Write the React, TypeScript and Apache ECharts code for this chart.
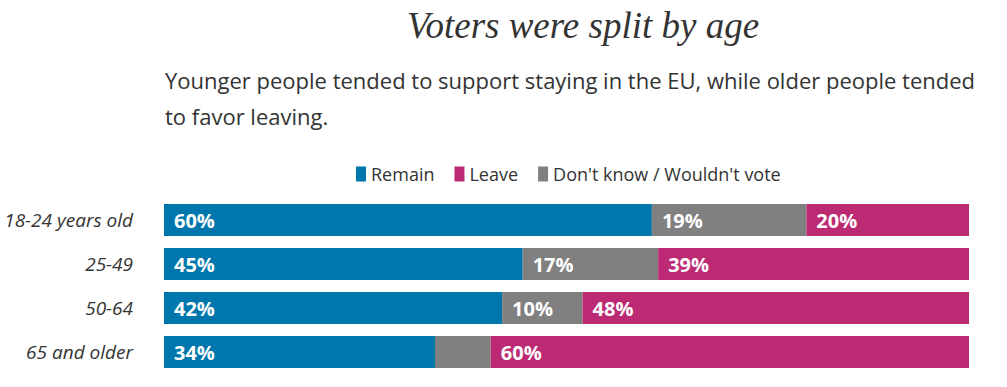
import React, { useEffect, useRef } from "react";
import * as echarts from "echarts";

const categories = ["18-24 years old", "25-49", "50-64", "65 and older"];
const remain = [60, 45, 42, 34];
const dontKnow = [19, 17, 10, 7];
const leave = [20, 39, 48, 60];
const legendOrder = ["Remain", "Leave", "Don't know / Wouldn't vote"];

const COLORS = { remain: "#0077ac", leave: "#bb2a73", dk: "#808080" };
const FONT = "'Open Sans', sans-serif";

export default function App() {
  const ref = useRef<HTMLDivElement>(null);
  useEffect(() => {
    document.body.style.margin = "0";
    const chart = echarts.init(ref.current!, null, { renderer: "svg" });
    const totals = categories.map((_, i) => remain[i] + dontKnow[i] + leave[i]);
    const mk = (name: string, raw: number[], color: string) => ({
      name,
      type: "bar",
      stack: "all",
      barWidth: 32,
      itemStyle: { color },
      label: {
        show: true,
        position: "insideLeft",
        distance: 10,
        color: "#fff",
        fontFamily: FONT,
        fontWeight: "bold",
        fontSize: 20,
        formatter: (p: any) => (raw[p.dataIndex] >= 10 ? raw[p.dataIndex] + "%" : ""),
      },
      data: raw.map((v, i) => (v / totals[i]) * 100),
    });
    chart.setOption({
      animation: false,
      title: [
        {
          text: "Voters were split by age",
          left: 578,
          top: 2,
          textAlign: "center",
          textStyle: {
            fontFamily: "'Liberation Serif', serif",
            fontStyle: "italic",
            fontWeight: "normal",
            fontSize: 37,
            color: "#333",
          },
        },
        {
          text: "Younger people tended to support staying in the EU, while older people tended\nto favor leaving.",
          left: 160,
          top: 57,
          textStyle: {
            fontFamily: FONT,
            fontWeight: "normal",
            fontSize: 22,
            lineHeight: 36,
            color: "#333",
          },
        },
      ],
      legend: {
        data: legendOrder,
        top: 160,
        left: 351,
        icon: "rect",
        itemWidth: 10,
        itemHeight: 15,
        itemGap: 20,
        textStyle: { fontFamily: FONT, fontSize: 18, color: "#333" },
      },
      grid: { left: 164, right: 38, top: 198, bottom: 13 },
      xAxis: { type: "value", min: 0, max: 100, show: false },
      yAxis: {
        type: "category",
        data: categories,
        inverse: true,
        axisLine: { show: false },
        axisTick: { show: false },
        axisLabel: {
          margin: 31,
          fontFamily: FONT,
          fontStyle: "italic",
          fontSize: 19,
          color: "#333",
        },
      },
      series: [
        mk("Remain", remain, COLORS.remain),
        mk("Don't know / Wouldn't vote", dontKnow, COLORS.dk),
        mk("Leave", leave, COLORS.leave),
      ],
    });
    return () => chart.dispose();
  }, []);
  return <div ref={ref} style={{ width: 1007, height: 387 }} />;
}
